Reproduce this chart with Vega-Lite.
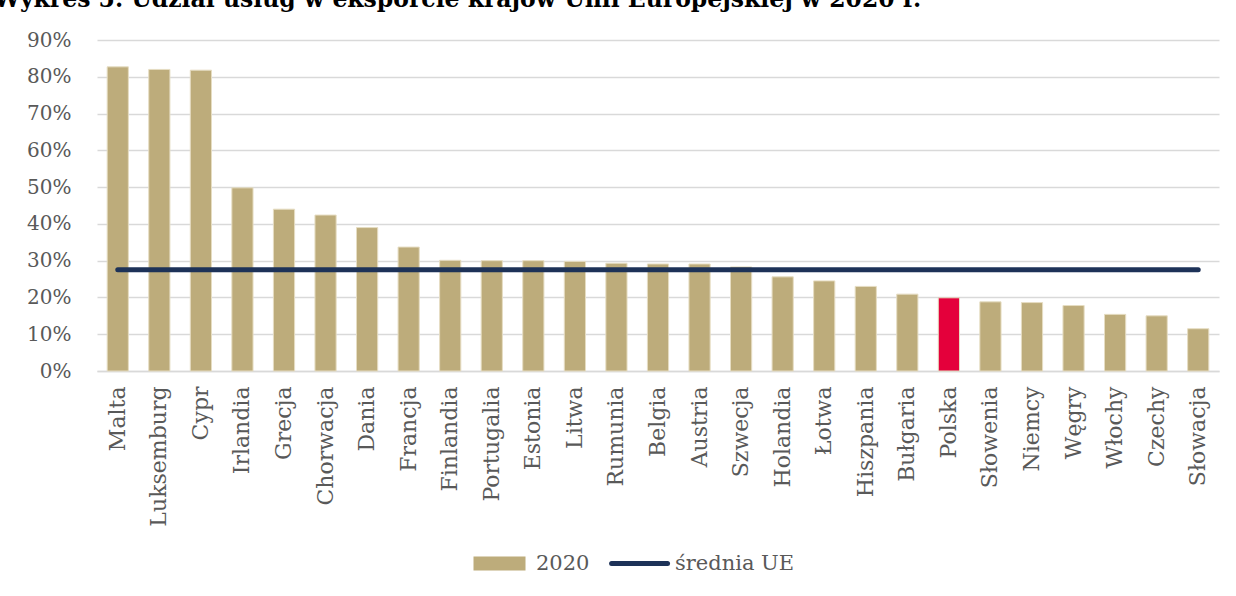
{
  "$schema": "https://vega.github.io/schema/vega-lite/v6.json",
  "autosize": {"type": "none"},
  "width": 1122,
  "height": 331,
  "padding": {"left": 97, "top": 40, "right": 17, "bottom": 225},
  "background": "white",
  "title": {
    "text": "Wykres 5. Udział usług w eksporcie krajów Unii Europejskiej w 2020 r.",
    "anchor": "start",
    "frame": "group",
    "orient": "top",
    "dx": -103,
    "offset": 0,
    "dy": 0,
    "baseline": "alphabetic",
    "font": "DejaVu Serif",
    "fontSize": 23.5,
    "fontWeight": "bold",
    "color": "#000000"
  },
  "config": {
    "view": {"stroke": null},
    "font": "DejaVu Serif",
    "axis": {"labelFont": "DejaVu Serif", "labelColor": "#595959"}
  },
  "data": {
    "values": [
      {"kraj": "Malta", "udzial": 0.827, "srednia": 0.275},
      {"kraj": "Luksemburg", "udzial": 0.820, "srednia": 0.275},
      {"kraj": "Cypr", "udzial": 0.818, "srednia": 0.275},
      {"kraj": "Irlandia", "udzial": 0.498, "srednia": 0.275},
      {"kraj": "Grecja", "udzial": 0.440, "srednia": 0.275},
      {"kraj": "Chorwacja", "udzial": 0.424, "srednia": 0.275},
      {"kraj": "Dania", "udzial": 0.390, "srednia": 0.275},
      {"kraj": "Francja", "udzial": 0.337, "srednia": 0.275},
      {"kraj": "Finlandia", "udzial": 0.301, "srednia": 0.275},
      {"kraj": "Portugalia", "udzial": 0.300, "srednia": 0.275},
      {"kraj": "Estonia", "udzial": 0.300, "srednia": 0.275},
      {"kraj": "Litwa", "udzial": 0.298, "srednia": 0.275},
      {"kraj": "Rumunia", "udzial": 0.293, "srednia": 0.275},
      {"kraj": "Belgia", "udzial": 0.291, "srednia": 0.275},
      {"kraj": "Austria", "udzial": 0.291, "srednia": 0.275},
      {"kraj": "Szwecja", "udzial": 0.283, "srednia": 0.275},
      {"kraj": "Holandia", "udzial": 0.256, "srednia": 0.275},
      {"kraj": "Łotwa", "udzial": 0.245, "srednia": 0.275},
      {"kraj": "Hiszpania", "udzial": 0.230, "srednia": 0.275},
      {"kraj": "Bułgaria", "udzial": 0.209, "srednia": 0.275},
      {"kraj": "Polska", "udzial": 0.199, "srednia": 0.275},
      {"kraj": "Słowenia", "udzial": 0.188, "srednia": 0.275},
      {"kraj": "Niemcy", "udzial": 0.186, "srednia": 0.275},
      {"kraj": "Węgry", "udzial": 0.178, "srednia": 0.275},
      {"kraj": "Włochy", "udzial": 0.154, "srednia": 0.275},
      {"kraj": "Czechy", "udzial": 0.150, "srednia": 0.275},
      {"kraj": "Słowacja", "udzial": 0.115, "srednia": 0.275}
    ]
  },
  "encoding": {
    "x": {
      "field": "kraj",
      "type": "nominal",
      "sort": null,
      "title": null,
      "scale": {"paddingInner": 0.49, "paddingOuter": 0.245},
      "axis": {
        "labelAngle": -90,
        "labelFontSize": 22,
        "labelPadding": 15,
        "labelOverlap": false,
        "ticks": false,
        "domain": true,
        "domainColor": "#D9D9D9",
        "domainWidth": 1.5,
        "grid": false
      }
    }
  },
  "layer": [
    {
      "mark": {"type": "bar", "stroke": "#E6DDC3", "strokeWidth": 1},
      "encoding": {
        "y": {
          "field": "udzial",
          "type": "quantitative",
          "title": null,
          "scale": {"domain": [0, 0.9], "nice": false},
          "axis": {
            "values": [0, 0.1, 0.2, 0.3, 0.4, 0.5, 0.6, 0.7, 0.8, 0.9],
            "tickCount": 20,
            "format": ".0%",
            "labelFontSize": 20,
            "labelPadding": 26,
            "labelOverlap": false,
            "ticks": false,
            "domain": false,
            "grid": true,
            "gridColor": "#D9D9D9",
            "gridWidth": 1.5
          }
        },
        "fill": {
          "datum": "2020",
          "type": "nominal",
          "condition": {"test": "datum.kraj === 'Polska'", "value": "#E4003B"},
          "scale": {"domain": ["2020"], "range": ["#BDAC7B"]},
          "legend": {
            "title": null,
            "orient": "none",
            "legendX": 373,
            "legendY": 513,
            "direction": "horizontal",
            "padding": 0,
            "symbolSize": 196,
            "symbolType": "M-1,-1H6.43V1H-1Z",
            "symbolStrokeWidth": 0,
            "labelOffset": 45,
            "labelFont": "DejaVu Serif",
            "labelFontSize": 21,
            "labelColor": "#595959"
          }
        }
      }
    },
    {
      "mark": {"type": "line", "strokeWidth": 5, "strokeCap": "round"},
      "encoding": {
        "y": {
          "field": "srednia",
          "type": "quantitative",
          "title": null,
          "scale": {"domain": [0, 0.9], "nice": false},
          "axis": {
            "values": [0, 0.1, 0.2, 0.3, 0.4, 0.5, 0.6, 0.7, 0.8, 0.9],
            "tickCount": 20,
            "format": ".0%",
            "labelFontSize": 20,
            "labelPadding": 26,
            "labelOverlap": false,
            "ticks": false,
            "domain": false,
            "grid": true,
            "gridColor": "#D9D9D9",
            "gridWidth": 1.5
          }
        },
        "stroke": {
          "datum": "średnia UE",
          "type": "nominal",
          "scale": {"domain": ["średnia UE"], "range": ["#1D3258"]},
          "legend": {
            "title": null,
            "orient": "none",
            "legendX": 516,
            "legendY": 513,
            "direction": "horizontal",
            "padding": 0,
            "symbolSize": 196,
            "symbolType": "M-1.7,0H6.29",
            "symbolStrokeWidth": 5,
            "labelOffset": 41,
            "labelFont": "DejaVu Serif",
            "labelFontSize": 21,
            "labelColor": "#595959",
            "encode": {"symbols": {"update": {"strokeCap": {"value": "round"}}}}
          }
        }
      }
    }
  ]
}
